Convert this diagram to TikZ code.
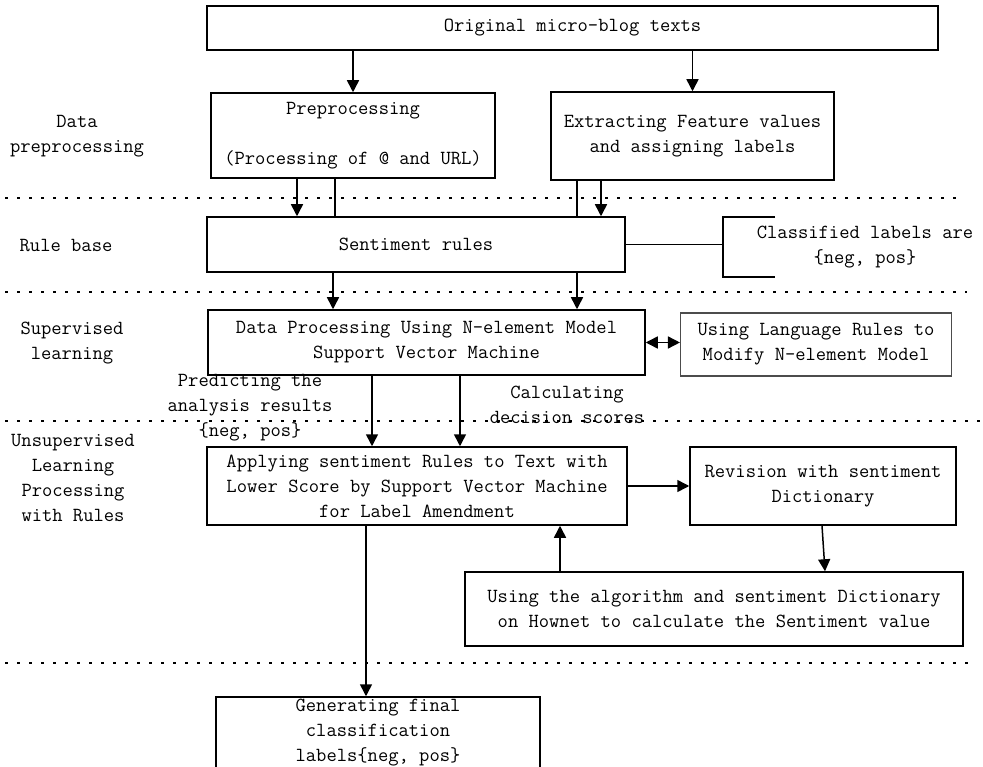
\documentclass[tikz,border=0pt]{standalone}
\usepackage{fontspec}
\usetikzlibrary{arrows.meta}

\begin{document}
\begin{tikzpicture}[x=1pt, y=-1pt, >={Triangle[length=12pt,width=12pt]},
    every node/.style={font=\fontsize{20}{25}\selectfont\ttfamily, align=center, inner sep=0pt},
    box/.style={draw, line width=1.5pt},
    link/.style={line width=1.5pt},
    arr/.style={link, ->},
    dbl/.style={link, <->},
    sep/.style={line width=1.2pt, dash pattern=on 3pt off 9pt}]
    \useasboundingbox (0,0) rectangle (983,767);

    \foreach \y/\e in {198/963, 292/967, 421/980, 663/975}
        \draw[sep] (5,\y) -- (\e,\y);

    \node (lbdata) at (77,136) {Data\\preprocessing};
    \node (lbrule) at (66,246) {Rule base};
    \node (lbsup) at (72,343) {Supervised\\learning};
    \node (lbuns) at (73,478) {Unsupervised\\Learning\\Processing\\with Rules};

    \node[box, minimum width=731pt, minimum height=44pt] (orig) at (572.5,28) {Original micro-blog texts};
    \node[box, minimum width=284pt, minimum height=85pt] (prep) at (353,135.5) {Preprocessing\\[25pt](Processing of @ and URL)};
    \node[box, minimum width=283pt, minimum height=88pt] (extr) at (692.5,136) {Extracting Feature values\\and assigning labels};
    \node[box, minimum width=418pt, minimum height=55pt] (rules) at (416,244.5) {Sentiment rules};
    \node (cls) at (865,247) {Classified labels are\\\{neg, pos\}};
    \coordinate (brk) at (723,247);
    \draw[link] (775,217) -| (723,277) -- (775,277);
    \node[box, minimum width=437pt, minimum height=65pt] (data) at (426.5,342.5) {Data Processing Using N-element Model\\Support Vector Machine};
    \node[box, draw=black!70, line width=1.1pt, minimum width=271pt, minimum height=63pt] (lang) at (816,344.5) {Using Language Rules to\\Modify N-element Model};
    \node (pred) at (250,408) {Predicting the\\analysis results\\\{neg, pos\}};
    \node (calc) at (567,405) {Calculating\\decision scores};
    \node[box, minimum width=420pt, minimum height=78pt] (apply) at (417,486) {Applying sentiment Rules to Text with\\Lower Score by Support Vector Machine\\for Label Amendment};
    \node[box, minimum width=266pt, minimum height=78pt] (revis) at (823,486) {Revision with sentiment\\Dictionary};
    \node[box, minimum width=498pt, minimum height=74pt] (howto) at (714,609) {Using the algorithm and sentiment Dictionary\\on Hownet to calculate the Sentiment value};
    \node[box, minimum width=324pt, minimum height=72pt] (final) at (378,733) {Generating final\\classification\\labels\{neg, pos\}};

    \draw[arr] (orig.south -| prep.north) -- (prep.north);
    \draw[arr] (orig.south -| extr.north) -- (extr.north);
    \draw[arr] ([xshift=-56pt]prep.south) -- ([xshift=-56pt]prep.south |- rules.north);
    \draw[link] ([xshift=-18pt]prep.south) -- ([xshift=-18pt]prep.south |- rules.north);
    \draw[link] ([xshift=-115.5pt]extr.south) -- ([xshift=-115.5pt]extr.south |- rules.north);
    \draw[arr] ([xshift=-91.5pt]extr.south) -- ([xshift=-91.5pt]extr.south |- rules.north);
    \draw[link] (rules.east) -- (rules.east -| brk);
    \draw[arr] ([xshift=-83pt]rules.south) -- ([xshift=-83pt]rules.south |- data.north);
    \draw[arr] ([xshift=161pt]rules.south) -- ([xshift=161pt]rules.south |- data.north);
    \draw[dbl] (data.east) -- (data.east -| lang.west);
    \draw[arr] ([xshift=-54.5pt]data.south) -- ([xshift=-54.5pt]data.south |- apply.north);
    \draw[arr] ([xshift=33.5pt]data.south) -- ([xshift=33.5pt]data.south |- apply.north);
    \draw[arr] (apply.east) -- (revis.west);
    \draw[arr] ([xshift=-1pt]revis.south) -- ([xshift=111pt]howto.north);
    \draw[arr] ([xshift=-154pt]howto.north) -- ([xshift=-154pt]howto.north |- apply.south);
    \draw[arr] ([xshift=-12pt]final.north |- apply.south) -- ([xshift=-12pt]final.north);
\end{tikzpicture}
\end{document}
